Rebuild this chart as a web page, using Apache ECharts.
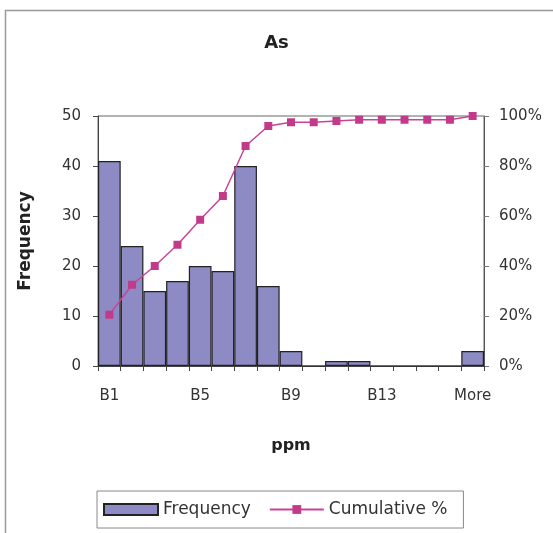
<!DOCTYPE html>
<html>
<head>
<meta charset="utf-8">
<script src="https://cdn.jsdelivr.net/npm/echarts@6/dist/echarts.min.js"></script>
<style>
  html, body { margin: 0; padding: 0; background: #fff; }
  #chart { width: 553px; height: 533px; }
</style>
</head>
<body>
<div id="chart"></div>
<script>
// Histogram bins for As (ppm)
const bins = ['B1','B2','B3','B4','B5','B6','B7','B8','B9','B10','B11','B12','B13','B14','B15','B16','More'];
const frequency = [41, 24, 15, 17, 20, 19, 40, 16, 3, 0, 1, 1, 0, 0, 0, 0, 3];
const cumulativePct = [20.5, 32.5, 40, 48.5, 58.5, 68, 88, 96, 97.5, 97.5, 98, 98.5, 98.5, 98.5, 98.5, 98.5, 100];
const freqTicks = { min: 0, max: 50, interval: 10 };
const pctTicks = { min: 0, max: 100, interval: 20 };

const textColor = '#333';
const font = 'DejaVu Sans, Verdana, sans-serif';

const chart = echarts.init(document.getElementById('chart'));
chart.setOption({
  animation: false,
  backgroundColor: '#fff',
  textStyle: { fontFamily: font },
  graphic: [{
    type: 'rect',
    shape: { x: 5.5, y: 10.5, width: 600, height: 600 },
    style: { fill: 'none', stroke: '#999', lineWidth: 1.5 },
    silent: true
  }],
  title: {
    text: 'As',
    left: 'center',
    top: 29,
    textStyle: { fontSize: 18, fontWeight: 'bold', color: '#222', fontFamily: font }
  },
  grid: {
    left: 98, right: 69, top: 116, bottom: 167,
    show: true, borderColor: '#666', borderWidth: 1, backgroundColor: '#fff'
  },
  legend: {
    bottom: 5,
    left: 97,
    padding: [10, 16, 10, 6],
    borderColor: '#888',
    borderWidth: 1,
    itemWidth: 54,
    itemHeight: 11,
    itemGap: 18,
    textStyle: { fontSize: 17, color: textColor, fontFamily: font },
    data: [{ name: 'Frequency', icon: 'rect' }, { name: 'Cumulative %' }]
  },
  xAxis: {
    type: 'category',
    data: bins,
    name: 'ppm',
    nameLocation: 'middle',
    nameGap: 72,
    nameTextStyle: { fontSize: 16, fontWeight: 'bold', color: '#222' },
    axisLine: { lineStyle: { color: '#444', width: 1 } },
    axisTick: { show: true, interval: 0, length: 5, lineStyle: { color: '#444' } },
    axisLabel: { interval: 3, fontSize: 15, color: textColor, margin: 23 }
  },
  yAxis: [{
    type: 'value',
    min: freqTicks.min, max: freqTicks.max, interval: freqTicks.interval,
    name: 'Frequency',
    nameLocation: 'middle',
    nameGap: 64,
    nameTextStyle: { fontSize: 17, fontWeight: 'bold', color: '#222' },
    axisLine: { show: true, lineStyle: { color: '#444' } },
    axisTick: { show: true, length: 5, lineStyle: { color: '#444' } },
    axisLabel: { fontSize: 15, color: textColor, margin: 17 },
    splitLine: { show: false }
  }, {
    type: 'value',
    position: 'right',
    min: pctTicks.min, max: pctTicks.max, interval: pctTicks.interval,
    axisLine: { show: true, lineStyle: { color: '#555' } },
    axisTick: { show: true, length: 5, lineStyle: { color: '#777' } },
    axisLabel: { fontSize: 15, color: textColor, margin: 15, formatter: '{value}%' },
    splitLine: { show: false }
  }],
  series: [{
    name: 'Frequency',
    type: 'bar',
    data: frequency,
    barCategoryGap: 0,
    itemStyle: { color: '#8d8ac4', borderColor: '#222', borderWidth: 1.2 }
  }, {
    name: 'Cumulative %',
    type: 'line',
    yAxisIndex: 1,
    data: cumulativePct,
    symbol: 'rect',
    symbolSize: 8,
    lineStyle: { color: '#c8449a', width: 1.5 },
    itemStyle: { color: '#c23b8a' }
  }]
});
</script>
</body>
</html>
